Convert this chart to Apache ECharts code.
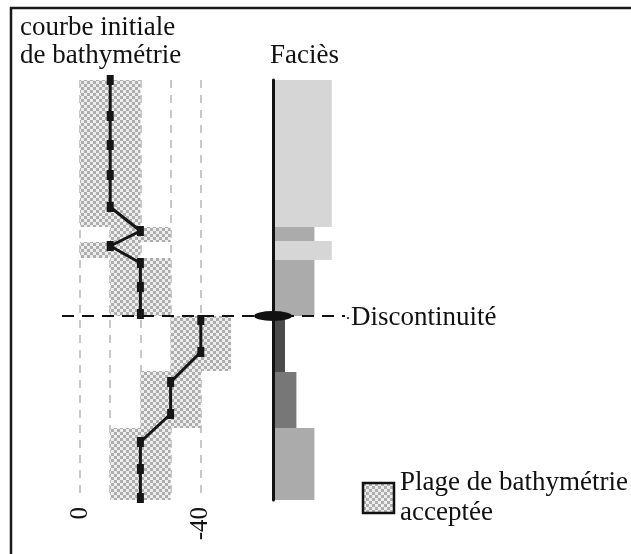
<!DOCTYPE html>
<html>
<head>
<meta charset="utf-8">
<script src="https://cdn.jsdelivr.net/npm/echarts@6/dist/echarts.min.js"></script>
<style>
  html, body { margin: 0; padding: 0; background: #fff; }
  #chart { width: 631px; height: 554px; }
</style>
</head>
<body>
<div id="chart"></div>
<script>
// bathymetry ranges (y = stratigraphic position, x = depth in m)
const rangeTop = [42, 27.3, 25.8, 24.2, 18.4, 12.9, 7.2];
const rangeBase = [27.3, 25.8, 24.2, 18.4, 12.9, 7.2, 0];
const rangeShallow = [0, -10, 0, -10, -30, -20, -10];
const rangeDeep = [-20, -30, -20, -30, -50, -40, -30];

// initial bathymetry curve, above and below the discontinuity
const curveUpperY = [42, 38.4, 35.5, 32.5, 29.3, 26.9, 25.4, 23.7, 21.3, 18.6];
const curveUpperX = [-10, -10, -10, -10, -10, -20, -10, -20, -20, -20];
const curveLowerY = [18.0, 14.8, 11.8, 8.6, 5.8, 3.1, 0.2];
const curveLowerX = [-40, -40, -30, -30, -20, -20, -20];

// facies column (index = texture, class = shade)
const faciesTop = [42, 27.3, 25.9, 24.0, 18.4, 12.8, 7.2];
const faciesBase = [27.3, 25.9, 24.0, 18.4, 12.8, 7.2, 0];
const faciesIndex = [4.9, 3.45, 4.9, 3.45, 1, 1.95, 3.45];
const faciesClass = [1, 2, 1, 2, 4, 3, 2];

const discontinuity = 18.4;
const tickLabels = ['0', '-40'];

const FONT = 'Liberation Serif';
const FS = 27;
const shades = { 1: '#d6d6d6', 2: '#ababab', 3: '#777777', 4: '#4b4b4b' };

// damier gris pour les plages
const pc = document.createElement('canvas');
pc.width = 6; pc.height = 6;
const pctx = pc.getContext('2d');
pctx.fillStyle = '#eeeeee';
pctx.fillRect(0, 0, 6, 6);
pctx.fillStyle = '#adadad';
pctx.fillRect(0, 0, 3, 3);
pctx.fillRect(3, 3, 3, 3);
const checker = { image: pc, repeat: 'repeat' };

const chart = echarts.init(document.getElementById('chart'), null, { renderer: 'canvas' });

const renderRange = function (params, api) {
  const p1 = api.coord([api.value(2), api.value(1)]);
  const p2 = api.coord([api.value(3), api.value(0)]);
  return {
    type: 'rect',
    shape: {
      x: Math.min(p1[0], p2[0]),
      y: p1[1],
      width: Math.abs(p2[0] - p1[0]),
      height: p2[1] - p1[1]
    },
    style: { fill: checker }
  };
};

const renderFacies = function (params, api) {
  const p1 = api.coord([0, api.value(1)]);
  const p2 = api.coord([api.value(2), api.value(0)]);
  return {
    type: 'rect',
    shape: { x: p1[0], y: p1[1], width: p2[0] - p1[0], height: p2[1] - p1[1] },
    style: { fill: shades[api.value(3)] }
  };
};

const curveStyle = {
  type: 'line',
  xAxisIndex: 0,
  yAxisIndex: 0,
  symbol: 'rect',
  symbolSize: [7, 10],
  clip: false,
  lineStyle: { color: '#151515', width: 3 },
  itemStyle: { color: '#151515' },
  z: 5
};

const titleStyle = { fontFamily: FONT, fontSize: FS, fontWeight: 'normal', color: '#111' };

const option = {
  animation: false,
  backgroundColor: '#fff',
  title: [
    { text: 'courbe initiale', left: 20, top: 14, padding: 0, textStyle: titleStyle },
    { text: 'de bathymétrie', left: 20, top: 42, padding: 0, textStyle: titleStyle },
    { text: 'Faciès', left: 270, top: 42, padding: 0, textStyle: titleStyle }
  ],
  grid: [
    { left: 80, top: 80, width: 151, height: 420 },
    { left: 273, top: 80, width: 60, height: 420 }
  ],
  xAxis: [
    {
      type: 'value', gridIndex: 0, min: -50, max: 0, interval: 10, inverse: true,
      axisLine: { show: false },
      axisTick: { show: false },
      axisLabel: {
        rotate: 90, margin: 7,
        fontFamily: FONT, fontSize: 25, color: '#111',
        formatter: function (v) { return tickLabels.indexOf(String(v)) >= 0 ? String(v) : ''; }
      },
      splitLine: {
        show: true,
        lineStyle: {
          color: ['rgba(0,0,0,0)', '#c8c8c8', '#c8c8c8', '#c8c8c8', '#c8c8c8', '#c8c8c8'],
          width: 2, type: [8, 7]
        }
      }
    },
    { type: 'value', gridIndex: 1, min: 0, max: 5, show: false }
  ],
  yAxis: [
    { type: 'value', gridIndex: 0, min: 0, max: 42, show: false },
    {
      type: 'value', gridIndex: 1, min: 0, max: 42,
      axisLine: { show: true, lineStyle: { color: '#111', width: 3 } },
      axisTick: { show: false },
      axisLabel: { show: false },
      splitLine: { show: false },
      z: 6
    }
  ],
  series: [
    {
      type: 'custom',
      name: 'Plage de bathymétrie acceptée',
      xAxisIndex: 0, yAxisIndex: 0,
      renderItem: renderRange,
      encode: { x: [2, 3], y: [0, 1] },
      data: rangeTop.map(function (t, i) { return [rangeBase[i], t, rangeShallow[i], rangeDeep[i]]; }),
      z: 2
    },
    Object.assign({}, curveStyle, {
      data: curveUpperX.map(function (x, i) { return [x, curveUpperY[i]]; })
    }),
    Object.assign({}, curveStyle, {
      data: curveLowerX.map(function (x, i) { return [x, curveLowerY[i]]; })
    }),
    {
      type: 'custom',
      name: 'Faciès',
      xAxisIndex: 1, yAxisIndex: 1,
      renderItem: renderFacies,
      encode: { x: 2, y: [0, 1] },
      data: faciesTop.map(function (t, i) { return [faciesBase[i], t, faciesIndex[i], faciesClass[i]]; }),
      z: 2
    },
    {
      type: 'scatter',
      xAxisIndex: 1, yAxisIndex: 1,
      symbol: 'circle',
      symbolSize: [38, 10],
      clip: false,
      itemStyle: { color: '#111', opacity: 1 },
      data: [[0, discontinuity]],
      z: 10
    }
  ]
};

chart.setOption(option);

// ligne de discontinuité, cadre et légende
const discY = chart.convertToPixel({ gridIndex: 0 }, [0, discontinuity])[1];
chart.setOption({
  graphic: [
    {
      type: 'polyline',
      shape: { points: [[11, 554], [11, 8], [631, 8]] },
      style: { stroke: '#1a1a1a', lineWidth: 2.5, fill: null }
    },
    {
      type: 'line',
      shape: { x1: 62, y1: discY, x2: 345, y2: discY },
      style: { stroke: '#111', lineWidth: 2, lineDash: [12, 8] },
      z: 8
    },
    {
      type: 'circle',
      shape: { cx: 348, cy: discY + 2, r: 1 },
      style: { fill: '#111' }
    },
    {
      type: 'text',
      x: 351, y: discY + 2,
      style: { text: 'Discontinuité', fontFamily: FONT, fontSize: FS, fill: '#111', verticalAlign: 'middle' }
    },
    {
      type: 'rect',
      shape: { x: 363, y: 483, width: 31, height: 30 },
      style: { fill: checker, stroke: '#111', lineWidth: 2.5 }
    },
    {
      type: 'text',
      x: 400, y: 469,
      style: { text: 'Plage de bathymétrie', fontFamily: FONT, fontSize: FS, fill: '#111' }
    },
    {
      type: 'text',
      x: 400, y: 499,
      style: { text: 'acceptée', fontFamily: FONT, fontSize: FS, fill: '#111' }
    }
  ]
});
</script>
</body>
</html>
